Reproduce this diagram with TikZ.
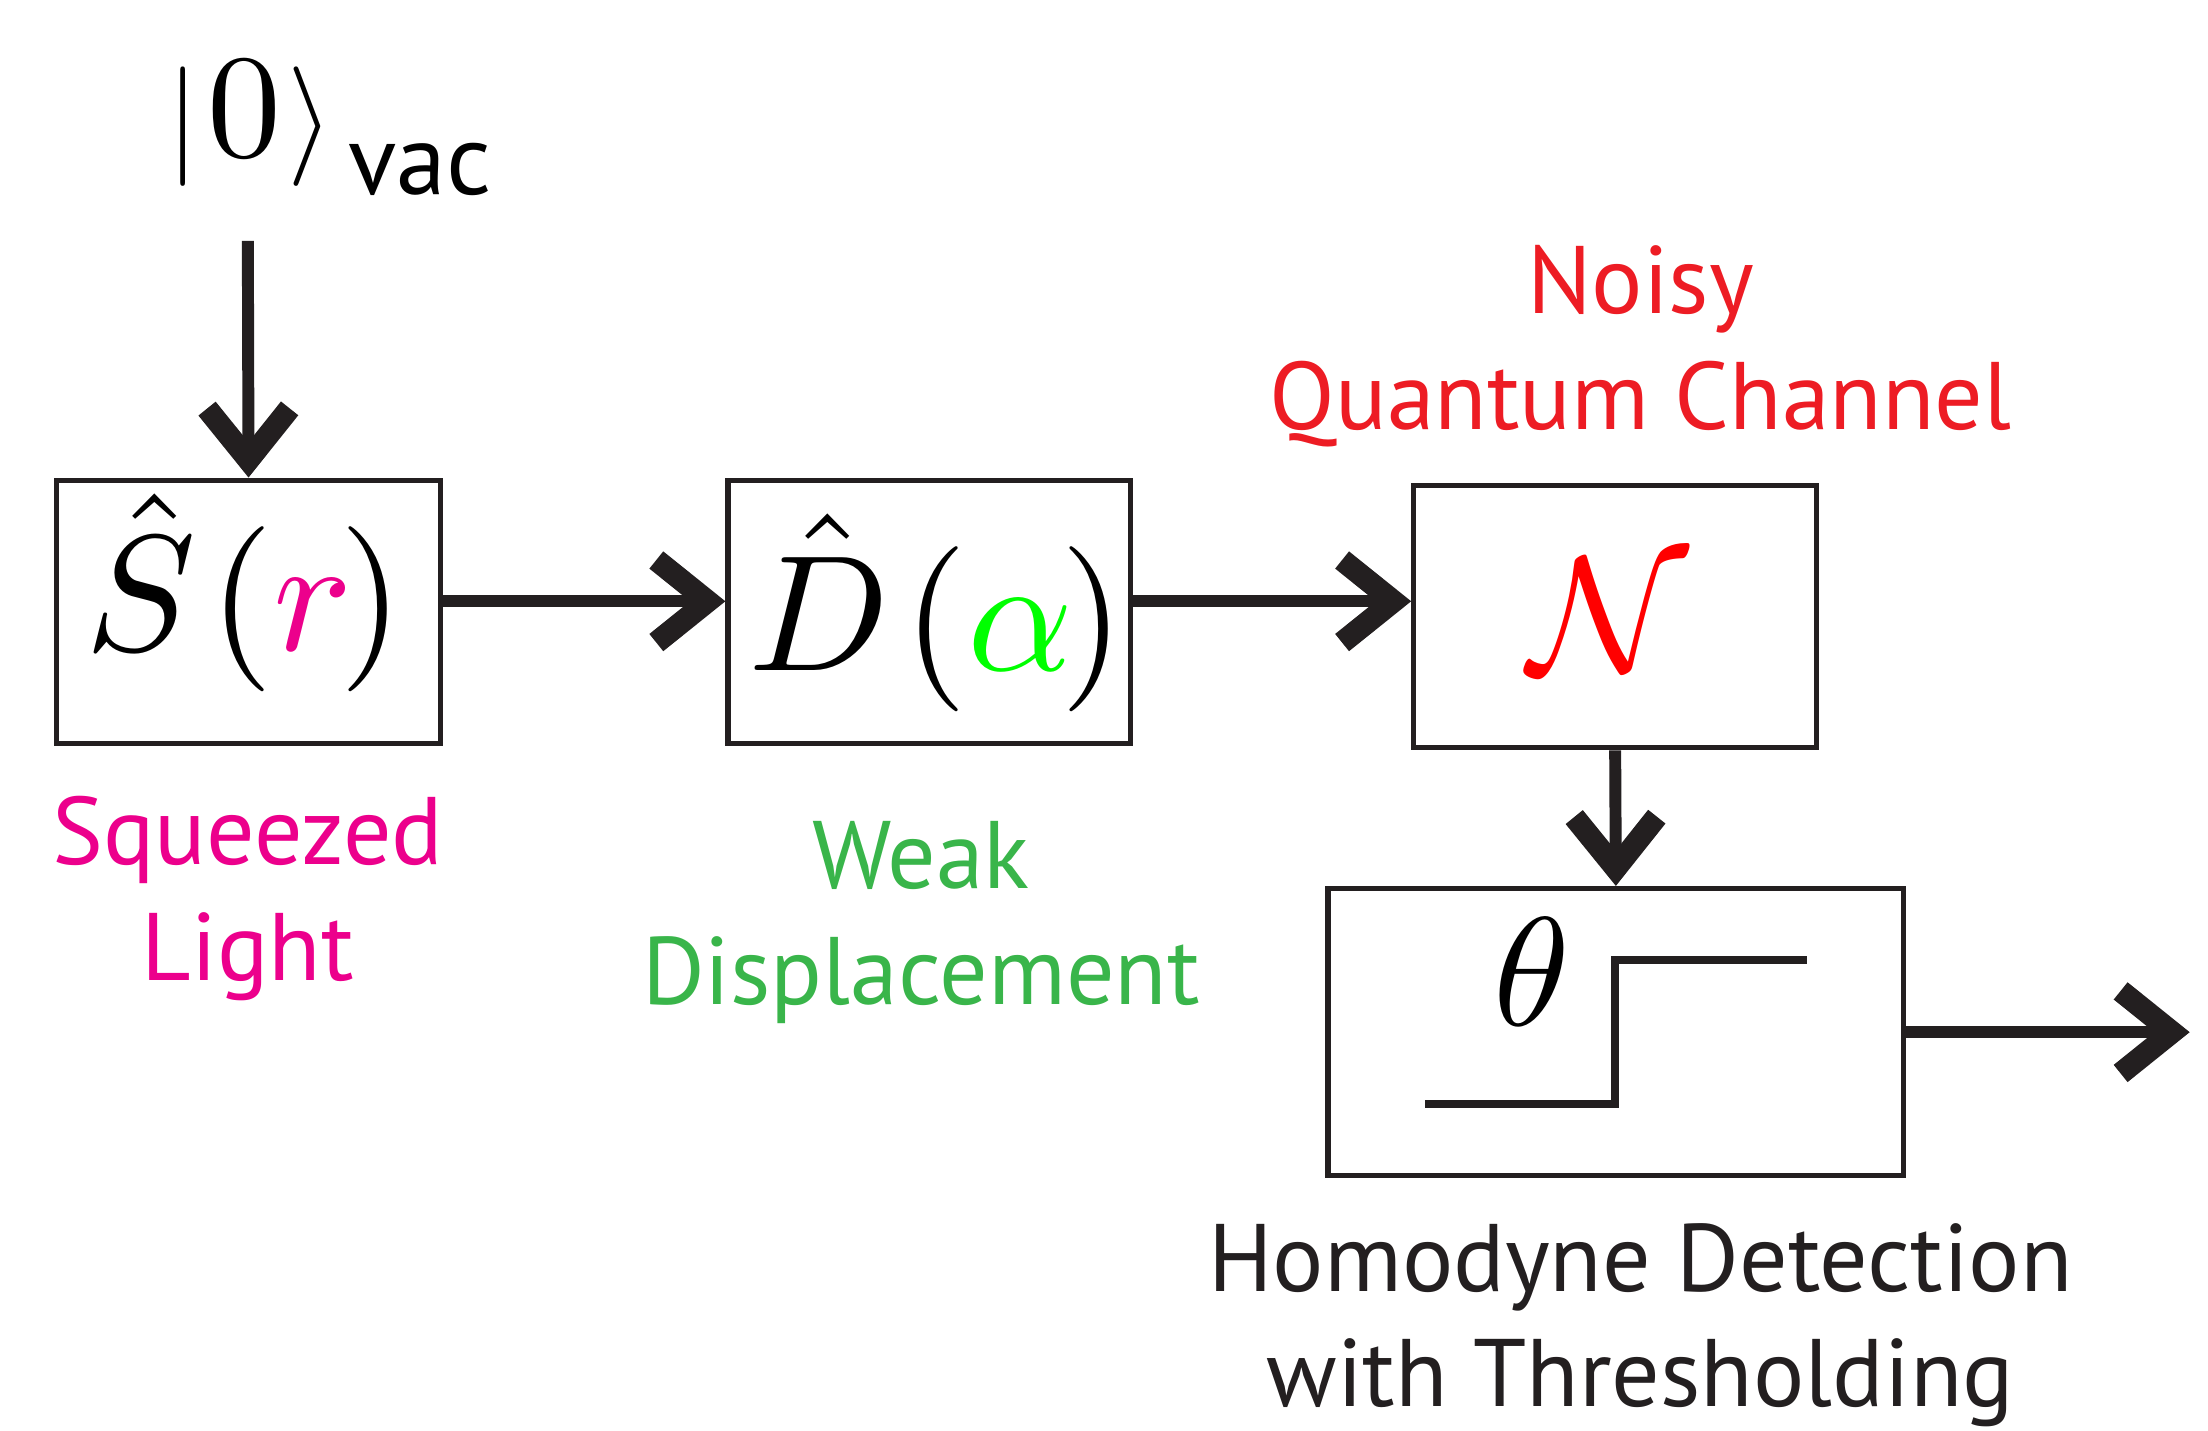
\documentclass[tikz,border=0pt]{standalone}
\usepackage{graphicx}
\usepackage{fontspec}
\newfontfamily\lbl{PT Sans}
\usetikzlibrary{arrows.meta}
\definecolor{ink}{HTML}{231F20}
\definecolor{mag}{HTML}{EC008C}
\definecolor{lgreen}{HTML}{39B54A}
\definecolor{brightgreen}{HTML}{00FF00}
\definecolor{lred}{HTML}{ED1C24}
\definecolor{nred}{HTML}{FF0000}
\newcommand\pxu{0.01408cm}
\begin{document}
\begin{tikzpicture}[x=0.01408cm,y=-0.01408cm,
  box/.style={draw=ink,line width=1.5pt,inner sep=0pt},
  arr/.style={draw=ink,line width=3.4pt,-{Straight Barb[length=0.514cm,width=0.826cm,line width=6.3pt]}},
  stepline/.style={draw=ink,line width=2.3pt},
  lab/.style={font=\lbl\fontsize{27.3}{32.9}\selectfont,align=center,inner sep=0pt},
  mathlbl/.style={inner sep=0pt}]
\useasboundingbox (0,0) rectangle (1568,1016);
% boxes
\node[box,minimum width=273*\pxu,minimum height=187*\pxu] (sq) at (176.5,434.5) {};
\node[box,minimum width=286*\pxu,minimum height=187*\pxu] (disp) at (660,434.5) {};
\node[box,minimum width=286*\pxu,minimum height=186*\pxu] (chan) at (1147,438) {};
\node[box,minimum width=409*\pxu,minimum height=204*\pxu] (det) at (1147.5,733) {};
% math contents
\node[mathlbl,anchor=base west] (ket) at (118,111) {\scalebox{3.4}{$|$}\kern2pt\scalebox{4.2}{$0$}\kern2pt\scalebox{3.4}{$\rangle$}\kern4pt\raisebox{-11pt}{\lbl\fontsize{28.5}{29}\selectfont vac}};
\node[mathlbl,anchor=base west] (sqm) at (60,462) {\scalebox{4.7}{$\hat{S}\mkern1.5mu(\textcolor{mag}{r}\mkern-1.5mu)$}};
\node[mathlbl,anchor=base west] (dm) at (531,476) {\scalebox{4.7}{$\hat{D}\mkern1.5mu(\textcolor{brightgreen}{\alpha}\mkern-1.5mu)$}};
\node[mathlbl,anchor=base] (nm) at (1142,477) {\scalebox{4.7}{$\textcolor{nred}{\mathcal{N}}$}};
\node[mathlbl,anchor=base] (thm) at (1088,728) {\scalebox{4.4}{$\theta$}};
% step
\draw[stepline] (1012,784) -- (1147,784) -- (1147,682) -- (1283,682);
% connectors
\coordinate (kin) at (176,171);
\coordinate (out) at (1555,733);
\draw[arr] (kin) -- (sq.north);
\draw[arr] (sq.east |- 0,427) -- (disp.west |- 0,427);
\draw[arr] (disp.east |- 0,427) -- (chan.west |- 0,427);
\draw[arr] (chan.south) -- (det.north);
\draw[arr] (det.east) -- (out);
% labels (anchor base = baseline of the last line)
\node[lab,text=mag,anchor=base] (sqt) at (176,696) {Squeezed\\Light};
\node[lab,text=lgreen,anchor=base] (dt) at (654,713) {Weak\\Displacement};
\node[lab,text=lred,anchor=base] (nt) at (1165,305) {Noisy\\Quantum Channel};
\node[lab,text=ink,anchor=base] (ht) at (1165,999) {Homodyne Detection\\with Thresholding};
\end{tikzpicture}
\end{document}
